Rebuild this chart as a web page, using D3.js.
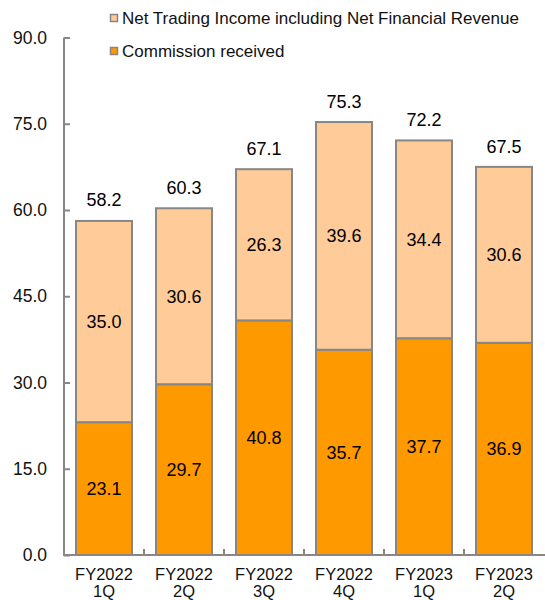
<!DOCTYPE html>
<html><head><meta charset="utf-8">
<script src="https://cdn.jsdelivr.net/npm/d3@7"></script>
<style>body{margin:0;background:#fff}svg{display:block;font-family:"Liberation Sans",Arial,sans-serif}</style>
</head><body><svg id="c" width="545" height="600"></svg>
<script>
const categories = ["FY2022\n1Q","FY2022\n2Q","FY2022\n3Q","FY2022\n4Q","FY2023\n1Q","FY2023\n2Q"];
const commission = [23.1,29.7,40.8,35.7,37.7,36.9];
const netTrading = [35.0,30.6,26.3,39.6,34.4,30.6];
const totals = [58.2,60.3,67.1,75.3,72.2,67.5];
const yTicks = [0,15,30,45,60,75,90];
const seriesNames = ["Net Trading Income including Net Financial Revenue","Commission received"];
const colors = {commission:"#FF9900", net:"#FFCC99", stroke:"#878787", axis:"#878787"};

const svg = d3.select("#c");
const x0 = 64, x1 = 544, yBottom = 555, yTop = 37.5;
const x = d3.scaleBand().domain(categories).range([x0,x1]).paddingInner(0.3).paddingOuter(0.15);
const y = d3.scaleLinear().domain([0,90]).range([yBottom,yTop]);

// y axis
const yAxis = d3.axisLeft(y).tickValues(yTicks).tickFormat(d3.format(".1f")).tickSize(-6).tickPadding(17);
const ga = svg.append("g").attr("transform",`translate(${x0},0)`).call(yAxis);
ga.select(".domain").attr("stroke",colors.axis).attr("stroke-width",2).attr("d",`M0,${yTop}V${yBottom}`);
ga.selectAll(".tick line").attr("stroke",colors.axis).attr("stroke-width",2);
ga.selectAll(".tick text").attr("font-size",17.5).attr("fill","#111").attr("font-family","Liberation Sans, Arial, sans-serif");

// bars
const data = categories.map((c,i)=>({c,com:commission[i],net:netTrading[i],tot:totals[i]}));
const g = svg.append("g");
g.selectAll(".com").data(data).enter().append("rect")
  .attr("x",d=>x(d.c)).attr("width",x.bandwidth())
  .attr("y",d=>y(d.com)).attr("height",d=>y(0)-y(d.com))
  .attr("fill",colors.commission).attr("stroke",colors.stroke).attr("stroke-width",2);
g.selectAll(".net").data(data).enter().append("rect")
  .attr("x",d=>x(d.c)).attr("width",x.bandwidth())
  .attr("y",d=>y(d.com+d.net)).attr("height",d=>y(d.com)-y(d.com+d.net))
  .attr("fill",colors.net).attr("stroke",colors.stroke).attr("stroke-width",2);

// x axis
const gx = svg.append("g");
gx.append("line").attr("x1",x0-1).attr("x2",545).attr("y1",yBottom).attr("y2",yBottom).attr("stroke",colors.axis).attr("stroke-width",2);
for(let i=1;i<categories.length;i++){
  const xp = x0 + i*(x1-x0)/categories.length;
  gx.append("line").attr("x1",xp).attr("x2",xp).attr("y1",yBottom).attr("y2",yBottom-6).attr("stroke",colors.axis).attr("stroke-width",2);
}
data.forEach(d=>{
  const lines = d.c.split("\n");
  const cx = x(d.c)+x.bandwidth()/2;
  const t = gx.append("text").attr("x",cx).attr("y",580).attr("text-anchor","middle").attr("font-size",16.5).attr("fill","#111");
  lines.forEach((l,k)=>t.append("tspan").attr("x",cx).attr("dy",k?16.5:0).text(l));
});

// labels
const lbl = svg.append("g").attr("font-size",18).attr("fill","#000").attr("text-anchor","middle");
data.forEach(d=>{
  const cx = x(d.c)+x.bandwidth()/2;
  lbl.append("text").attr("x",cx).attr("y",(y(0)+y(d.com))/2).attr("dy","0.35em").text(d.com.toFixed(1));
  lbl.append("text").attr("x",cx).attr("y",(y(d.com)+y(d.com+d.net))/2).attr("dy","0.35em").text(d.net.toFixed(1));
  lbl.append("text").attr("x",cx).attr("y",y(d.tot)-14).text(d.tot.toFixed(1));
});

// legend
const leg = svg.append("g");
[[seriesNames[0],colors.net,18],[seriesNames[1],colors.commission,51]].forEach(([n,c,yy])=>{
  leg.append("rect").attr("x",110.5).attr("y",yy-3.5).attr("width",7).attr("height",7).attr("fill",c).attr("stroke",colors.stroke).attr("stroke-width",1.5);
  leg.append("text").attr("x",122).attr("y",yy).attr("dy","0.35em").attr("font-size",17).attr("fill","#111").text(n);
});
</script></body></html>
